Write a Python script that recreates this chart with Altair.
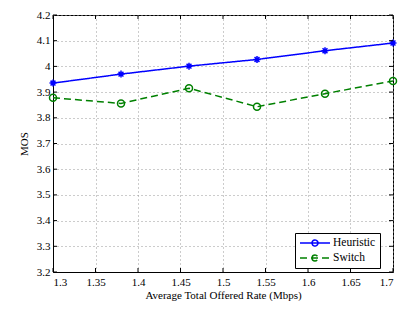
import altair as alt
import pandas as pd

rates = [1.30, 1.38, 1.46, 1.54, 1.62, 1.70]
heuristic = [3.935, 3.970, 4.001, 4.027, 4.061, 4.091]
switch = [3.878, 3.856, 3.915, 3.843, 3.894, 3.943]
series_names = ["Heuristic", "Switch"]
x_ticks = [1.3, 1.35, 1.4, 1.45, 1.5, 1.55, 1.6, 1.65, 1.7]
y_ticks = [3.2, 3.3, 3.4, 3.5, 3.6, 3.7, 3.8, 3.9, 4.0, 4.1, 4.2]

rows = []
for r, h, s in zip(rates, heuristic, switch):
    rows.append({"rate": r, "mos": h, "series": series_names[0]})
    rows.append({"rate": r, "mos": s, "series": series_names[1]})
df = pd.DataFrame(rows)
xt = pd.DataFrame({"v": x_ticks})
yt = pd.DataFrame({"v": y_ticks})

W, H = 340, 257
FONT = "Liberation Serif"
asterisk = "M-1,0L1,0M0,-1L0,1M-0.7,-0.7L0.7,0.7M-0.7,0.7L0.7,-0.7"
legend_sym = "M-1,0L5,0M1.4,0a0.6,0.6 0 1,0 1.2,0a0.6,0.6 0 1,0 -1.2,0"

xscale = alt.Scale(domain=[1.3, 1.7], nice=False, zero=False)
yscale = alt.Scale(domain=[3.2, 4.2], nice=False, zero=False)
cscale = alt.Scale(domain=series_names, range=["#0000ff", "#008000"])
dscale = alt.Scale(domain=series_names, range=[[1, 0], [7, 4]])

xaxis = alt.Axis(values=x_ticks, format=".2~f", title="Average Total Offered Rate (Mbps)",
                 grid=True, ticks=False, labelPadding=4, titlePadding=2)
yaxis = alt.Axis(values=y_ticks, format=".1~f", title="MOS", grid=True, ticks=False,
                 labelPadding=3, titlePadding=7)

lines = alt.Chart(df).mark_line(strokeWidth=1.5).encode(
    x=alt.X("rate:Q", scale=xscale, axis=xaxis),
    y=alt.Y("mos:Q", scale=yscale, axis=yaxis),
    color=alt.Color("series:N", scale=cscale, legend=alt.Legend(
        title=None, orient="none", legendX=242, legendY=218, symbolType=legend_sym,
        symbolSize=100, symbolStrokeWidth=1.5, strokeColor="black", fillColor="white",
        padding=4, rowPadding=3, labelFont=FONT, labelFontSize=11.5, labelColor="black",
        labelOffset=22)),
    strokeDash=alt.StrokeDash("series:N", scale=dscale, legend=None),
)

pts_h = alt.Chart(df).transform_filter(alt.datum.series == series_names[0]).mark_point(
    filled=False, strokeWidth=1.5, size=49, opacity=1, shape=asterisk, color="#0000ff"
).encode(x=alt.X("rate:Q", scale=xscale, axis=xaxis), y=alt.Y("mos:Q", scale=yscale, axis=yaxis))

pts_s = alt.Chart(df).transform_filter(alt.datum.series == series_names[1]).mark_point(
    filled=False, strokeWidth=1.5, size=49, opacity=1, shape="circle", color="#008000"
).encode(x=alt.X("rate:Q", scale=xscale, axis=xaxis), y=alt.Y("mos:Q", scale=yscale, axis=yaxis))

tb = alt.Chart(xt).mark_rule(color="black").encode(
    x=alt.X("v:Q", scale=xscale, axis=xaxis), y=alt.value(H), y2=alt.value(H - 4))
tt = alt.Chart(xt).mark_rule(color="black").encode(
    x=alt.X("v:Q", scale=xscale, axis=xaxis), y=alt.value(0), y2=alt.value(4))
tl = alt.Chart(yt).mark_rule(color="black").encode(
    y=alt.Y("v:Q", scale=yscale, axis=yaxis), x=alt.value(0), x2=alt.value(4))
tr = alt.Chart(yt).mark_rule(color="black").encode(
    y=alt.Y("v:Q", scale=yscale, axis=yaxis), x=alt.value(W), x2=alt.value(W - 4))

chart = alt.layer(lines, pts_h, pts_s, tb, tt, tl, tr).properties(
    width=W, height=H,
    background="white",
    autosize=alt.AutoSizeParams(type="none"),
    padding={"left": 45, "top": 7, "right": 16, "bottom": 29},
).configure_view(stroke="black", strokeWidth=1).configure_axis(
    labelFont=FONT, titleFont=FONT, labelFontSize=11, titleFontSize=11,
    labelColor="black", titleColor="black", titleFontWeight="normal",
    domainColor="black", gridColor="#999999", gridDash=[1, 3], gridOpacity=1,
)

chart.save("out.html", embed_options={"renderer": "svg", "actions": False})
